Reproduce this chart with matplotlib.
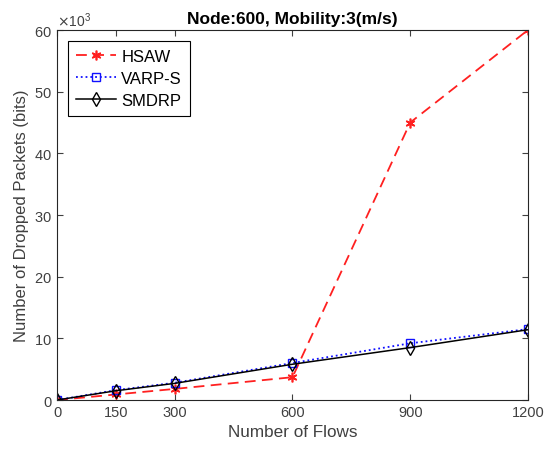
import matplotlib
matplotlib.use("Agg")
import matplotlib.pyplot as plt
from matplotlib.ticker import ScalarFormatter

plt.rcParams['font.family'] = ['Liberation Sans', 'DejaVu Sans']

flows = [0, 150, 300, 600, 900, 1200]
hsaw = [0, 900, 1800, 3700, 45000, 60000]
varps = [0, 1600, 2800, 6000, 9200, 11500]
smdrp = [0, 1500, 2700, 5800, 8500, 11400]
xticks = [0, 150, 300, 600, 900, 1200]
yticks = [0, 10000, 20000, 30000, 40000, 50000, 60000]

fig = plt.figure(figsize=(5.46, 4.52), dpi=100)
ax = fig.add_axes([0.1044, 0.1128, 0.8626, 0.8186])

ax.plot(flows, hsaw, color='#ff2020', linestyle=(0, (6, 3.5)), linewidth=1.3,
        marker=(6, 2, 0), markersize=7, markeredgewidth=1.2, label='HSAW')
ax.plot(flows, varps, color='#1010ff', linestyle=':', linewidth=1.3,
        marker='s', markersize=6, markerfacecolor='none', markeredgewidth=1.0, label='VARP-S')
ax.plot(flows, smdrp, color='black', linestyle='-', linewidth=1.1,
        marker='d', markersize=7, markerfacecolor='none', markeredgewidth=1.0, label='SMDRP')

ax.set_xlim(0, 1200)
ax.set_ylim(0, 60000)
ax.set_xticks(xticks)
ax.set_yticks(yticks)
fmt = ScalarFormatter(useMathText=True)
fmt.set_powerlimits((3, 3))
ax.yaxis.set_major_formatter(fmt)
ax.yaxis.get_offset_text().set_fontsize(10)
ax.yaxis.get_offset_text().set_color('#404040')

ax.tick_params(direction='in', top=True, right=True, labelsize=10.5, colors='#404040', length=4)
for s in ax.spines.values():
    s.set_color('#262626')
    s.set_linewidth(0.8)

ax.set_xlabel('Number of Flows', fontsize=12.3, color='#404040')
ax.set_ylabel('Number of Dropped Packets (bits)', fontsize=12, color='#404040')
ax.set_title('Node:600, Mobility:3(m/s)', fontsize=12.5, fontweight='bold', pad=5)

leg = ax.legend(loc='upper left', fontsize=12, fancybox=False, framealpha=1,
                edgecolor='black', handlelength=2.4, handletextpad=0.3,
                borderpad=0.5, labelspacing=0.4, borderaxespad=0.65)
leg.get_frame().set_linewidth(0.8)

fig.savefig('out.png', dpi=100)
